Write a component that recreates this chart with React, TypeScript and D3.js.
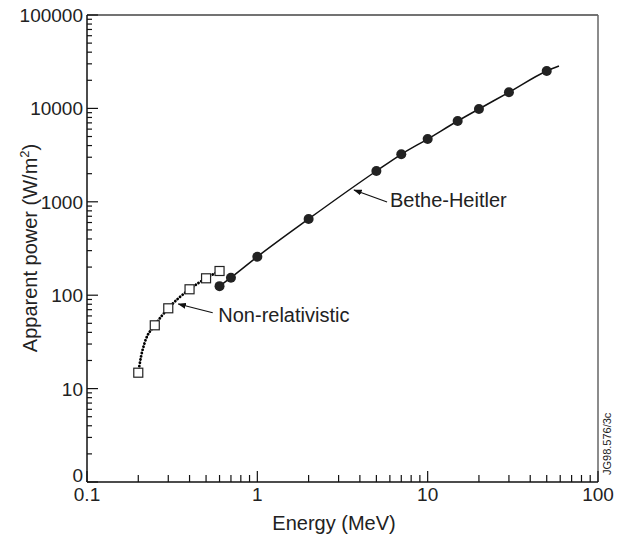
import React from "react";
import * as d3 from "d3";

// Bethe-Heitler data points (filled circles)
const bhEnergy = [0.6, 0.7, 1, 2, 5, 7, 10, 15, 20, 30, 50];
const bhPower = [125, 154, 258, 655, 2137, 3226, 4700, 7330, 9860, 14870, 25140];

// Bethe-Heitler curve (solid line)
const bhCurveEnergy = [0.6, 0.7, 1, 2, 5, 7, 10, 15, 20, 30, 50, 59];
const bhCurvePower = [125, 154, 258, 655, 2137, 3226, 4700, 7330, 9860, 14870, 25140, 28440];

// Non-relativistic data points (open squares)
const nrEnergy = [0.2, 0.25, 0.3, 0.4, 0.5, 0.6];
const nrPower = [14.8, 47.6, 72.4, 115.7, 151.7, 181.6];

// Non-relativistic curve (dotted line)
const nrCurveEnergy = [0.2, 0.2076, 0.2191, 0.25, 0.3, 0.4, 0.5, 0.6];
const nrCurvePower = [14.8, 22, 31.8, 47.6, 72.4, 115.7, 151.7, 181.6];

// Axis ticks
const xMajorTicks = [0.1, 1, 10, 100];
const xTickLabels = ["0.1", "1", "10", "100"];
const yMajorTicks = [1, 10, 100, 1000, 10000, 100000];
const yTickLabels = ["0", "10", "100", "1000", "10000", "100000"];

// Annotations
const annLabels = ["Non-relativistic", "Bethe-Heitler"];
const annTip: [number, number][] = [[0.3436, 80.5], [3.696, 1337]];
const annTail: [number, number][] = [[0.547, 64.9], [5.776, 995]];
const annText: [number, number][] = [[0.59, 52.0], [6.01, 880]];

const W = 634;
const H = 538;
const FONT = "'Liberation Sans', Arial, Helvetica, sans-serif";
const TXT = "#222";

export default function App() {
  const x = d3.scaleLog().domain([0.1, 100]).range([87, 598]);
  const y = d3.scaleLog().domain([1, 100000]).range([482, 15]);

  const xMinor: number[] = [];
  for (let d = 0.1; d < 100; d *= 10) for (let k = 2; k <= 9; k++) xMinor.push(+(d * k).toPrecision(3));
  const yMinor: number[] = [];
  for (let d = 1; d < 100000; d *= 10) for (let k = 2; k <= 9; k++) yMinor.push(d * k);

  const line = d3
    .line<[number, number]>()
    .x((d) => x(d[0]))
    .y((d) => y(d[1]))
    .curve(d3.curveMonotoneX);

  const bhCurve = line(bhCurveEnergy.map((e, i) => [e, bhCurvePower[i]]));
  const nrCurve = line(nrCurveEnergy.map((e, i) => [e, nrCurvePower[i]]));

  const [x0, x1] = x.range();
  const [y0, y1] = y.range();

  return (
    <svg
      width={W}
      height={H}
      style={{ position: "absolute", left: 0, top: 0, background: "#fff" }}
      fontFamily={FONT}
    >
      <defs>
        <marker id="arr" viewBox="0 0 10 10" refX="9" refY="5" markerWidth="7" markerHeight="7" orient="auto">
          <path d="M0,1.5 L10,5 L0,8.5 Z" fill="#111" />
        </marker>
      </defs>
      {/* frame */}
      <line x1={x0} x2={x1} y1={y1} y2={y1} stroke="#444" strokeWidth={1.5} />
      <line x1={x1} x2={x1} y1={y1} y2={y0} stroke="#666" strokeWidth={1.5} />
      <line x1={x0} x2={x0} y1={y1} y2={y0} stroke="#111" strokeWidth={1.5} />
      <line x1={x0} x2={x1} y1={y0} y2={y0} stroke="#111" strokeWidth={1.5} />

      {/* x ticks */}
      {xMinor.map((t) => (
        <line key={"xm" + t} x1={x(t)} x2={x(t)} y1={y0} y2={y0 - 7} stroke="#111" strokeWidth={1.2} />
      ))}
      {xMajorTicks.map((t) => (
        <line key={"xM" + t} x1={x(t)} x2={x(t)} y1={y0} y2={y0 - 11} stroke="#111" strokeWidth={1.2} />
      ))}
      {xMajorTicks.map((t, i) => (
        <text key={"xl" + t} x={x(t)} y={501} textAnchor="middle" fontSize={19} fill={TXT}>
          {xTickLabels[i]}
        </text>
      ))}

      {/* y ticks */}
      {yMinor.map((t) => (
        <line key={"ym" + t} x1={x0} x2={x0 + 5} y1={y(t)} y2={y(t)} stroke="#111" strokeWidth={1.2} />
      ))}
      {yMajorTicks.map((t) => (
        <line key={"yM" + t} x1={x0} x2={x0 + 11} y1={y(t)} y2={y(t)} stroke="#111" strokeWidth={1.2} />
      ))}
      {yMajorTicks.map((t, i) => (
        <text
          key={"yl" + t}
          x={83}
          y={y(t) + (i === 0 ? 0 : 7)}
          textAnchor="end"
          fontSize={19}
          fill={TXT}
        >
          {yTickLabels[i]}
        </text>
      ))}

      {/* axis titles */}
      <text x={334} y={530} textAnchor="middle" fontSize={20} fill={TXT}>
        Energy (MeV)
      </text>
      <text transform={`translate(37,248) rotate(-90)`} textAnchor="middle" fontSize={20} fill={TXT}>
        Apparent power (W/m
        <tspan fontSize={13} dy={-8}>2</tspan>
        <tspan dy={8}>)</tspan>
      </text>
      <text transform={`translate(611,475) rotate(-90)`} textAnchor="start" fontSize={11} fill={TXT}>
        JG98.576/3c
      </text>

      {/* curves */}
      <path d={nrCurve || ""} fill="none" stroke="#000" strokeWidth={2.8} strokeDasharray="0.1 3.2" strokeLinecap="round" />
      <path d={bhCurve || ""} fill="none" stroke="#111" strokeWidth={1.5} />

      {/* markers */}
      {nrEnergy.map((e, i) => (
        <rect
          key={"sq" + i}
          x={x(e) - 4.5}
          y={y(nrPower[i]) - 4.5}
          width={9}
          height={9}
          fill="#fff"
          stroke="#222"
          strokeWidth={1.2}
        />
      ))}
      {bhEnergy.map((e, i) => (
        <circle key={"c" + i} cx={x(e)} cy={y(bhPower[i])} r={5} fill="#222" />
      ))}

      {/* annotations */}
      {annLabels.map((lab, i) => (
        <g key={"a" + i}>
          <line
            x1={x(annTail[i][0])}
            y1={y(annTail[i][1])}
            x2={x(annTip[i][0])}
            y2={y(annTip[i][1])}
            stroke="#111"
            strokeWidth={1.2}
            markerEnd="url(#arr)"
          />
          <text x={x(annText[i][0])} y={y(annText[i][1])} fontSize={20} fill={TXT}>
            {lab}
          </text>
        </g>
      ))}
    </svg>
  );
}
